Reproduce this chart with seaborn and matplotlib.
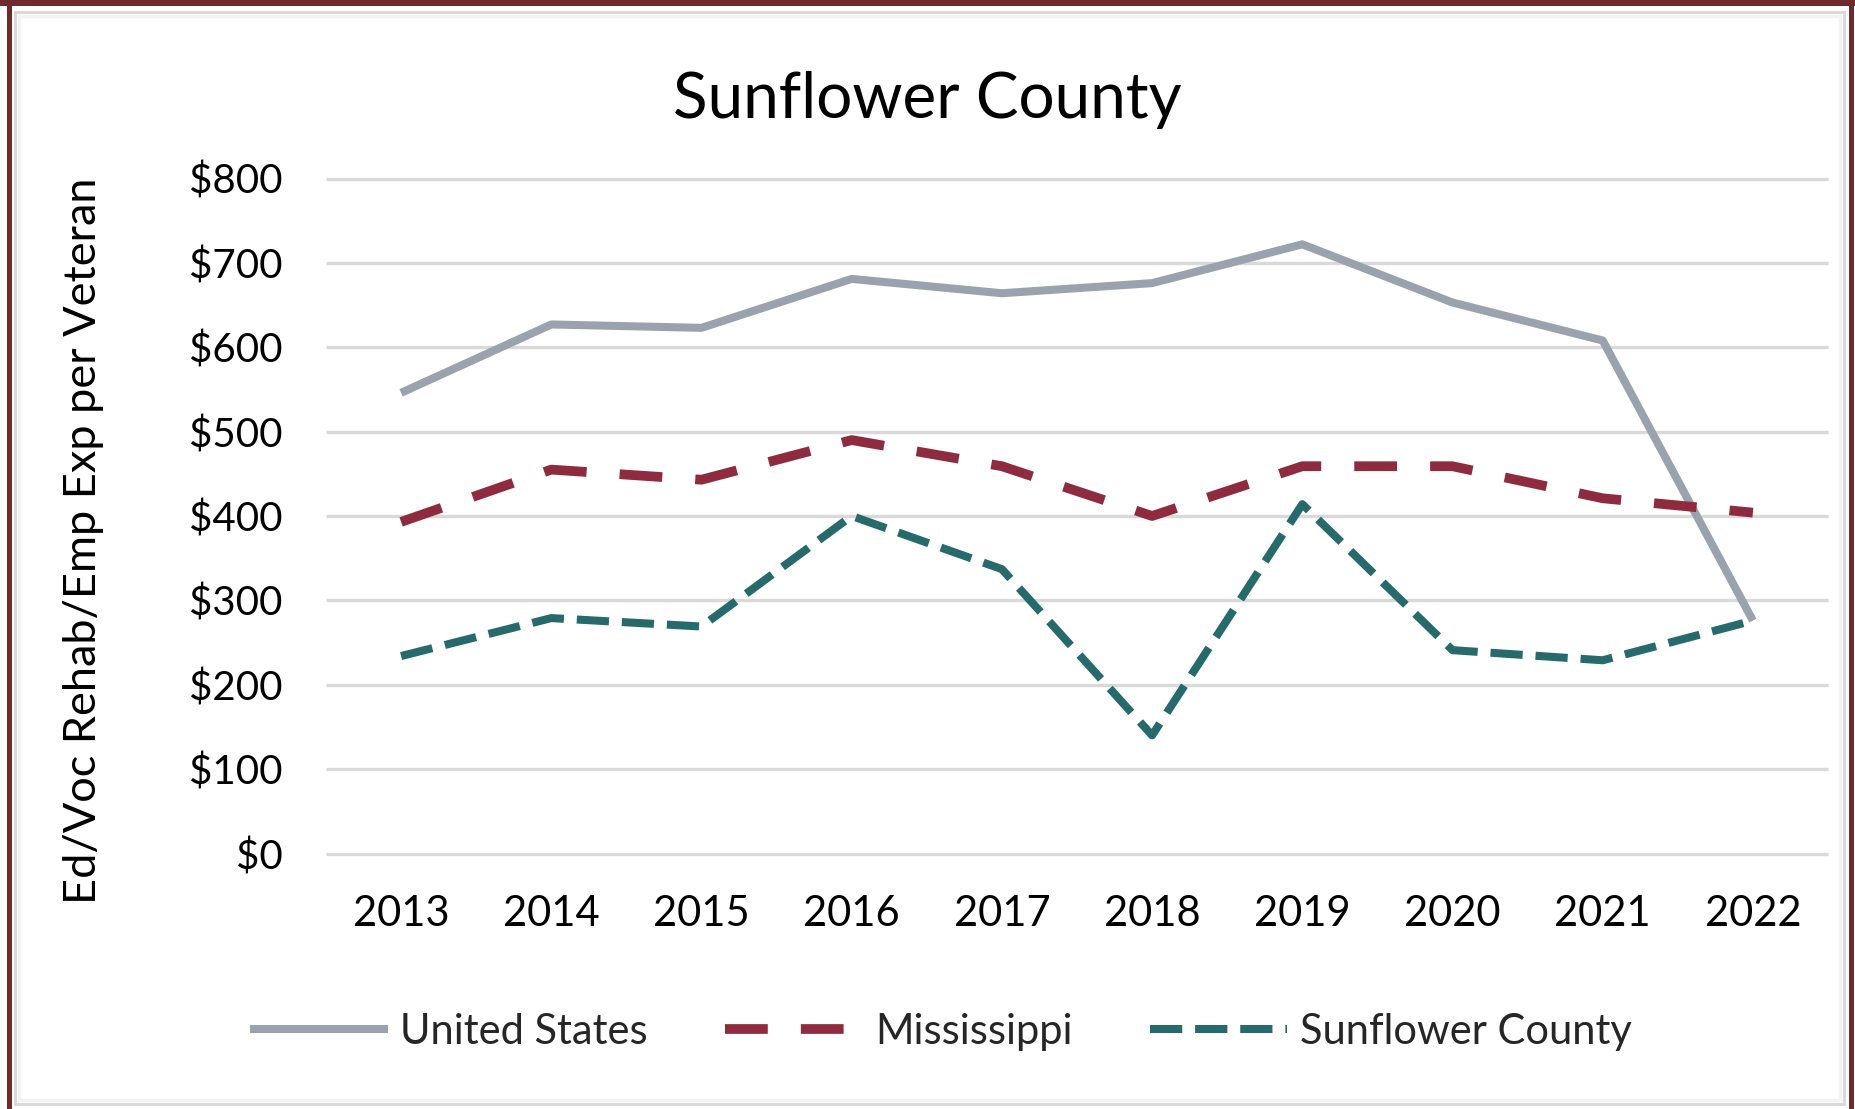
import matplotlib
matplotlib.use("Agg")
import matplotlib.pyplot as plt
import seaborn as sns
import pandas as pd
from matplotlib.patches import Rectangle

# ---------------- data ----------------
years = ["2013", "2014", "2015", "2016", "2017", "2018", "2019", "2020", "2021", "2022"]
united_states = [546, 627, 623, 681, 664, 676, 722, 653, 608, 276]
mississippi = [393, 455, 443, 490, 459, 400, 459, 459, 421, 404]
sunflower_county = [234, 279, 269, 400, 337, 140, 414, 241, 229, 276]
series_names = ["United States", "Mississippi", "Sunflower County"]
y_ticks = [0, 100, 200, 300, 400, 500, 600, 700, 800]
y_tick_labels = ["\\$0", "\\$100", "\\$200", "\\$300", "\\$400", "\\$500", "\\$600", "\\$700", "\\$800"]
title_text = "Sunflower County"
y_label_text = "Ed/Voc Rehab/Emp Exp per Veteran"

# ---------------- styles ----------------
colors = {"United States": "#9AA3AD", "Mississippi": "#8E2B3F", "Sunflower County": "#276A6C"}
dashes = {"United States": "", "Mississippi": (4.4, 3.4), "Sunflower County": (4.0, 1.6)}
widths = {"United States": 5.8, "Mississippi": 7.0, "Sunflower County": 5.8}

df = pd.DataFrame({
    "Year": years * 3,
    "Value": united_states + mississippi + sunflower_county,
    "Series": [series_names[0]] * len(years) + [series_names[1]] * len(years) + [series_names[2]] * len(years),
})

sns.set_style("white")
plt.rcParams["font.family"] = ["Lato", "DejaVu Sans"]
plt.rcParams["lines.solid_capstyle"] = "butt"

W, H = 1855, 1109
fig = plt.figure(figsize=(W / 100, H / 100), dpi=100)
fig.patch.set_facecolor("white")

ax_left, ax_right = 326 / W, 1828 / W
ax_bottom, ax_top = 1 - 853.5 / H, 1 - 178.5 / H
ax = fig.add_axes([ax_left, ax_bottom, ax_right - ax_left, ax_top - ax_bottom])

sns.lineplot(
    data=df, x="Year", y="Value", hue="Series", style="Series", size="Series",
    hue_order=series_names, style_order=series_names, size_order=series_names,
    palette=colors, dashes=dashes, sizes=widths, legend=False, ax=ax, sort=False,
)

ax.set_xlim(-0.5, len(years) - 0.5)
ax.set_ylim(0, 800)
ax.set_yticks(y_ticks)
ax.set_yticklabels(y_tick_labels)
ax.set_xlabel("")
ax.set_ylabel("")
for s in ax.spines.values():
    s.set_visible(False)
ax.set_axisbelow(True)
ax.yaxis.grid(True, color="#D9D9D9", linewidth=2.4)
ax.xaxis.grid(False)
for t in ax.yaxis.get_major_ticks():
    t.gridline.set_clip_on(False)
ax.tick_params(axis="both", length=0, colors="#000000")
ax.tick_params(axis="y", pad=31.5, labelsize=29)
ax.tick_params(axis="x", pad=30, labelsize=30)

# title and y label
fig.text(0.5, 1 - 118 / H, title_text, ha="center", va="baseline", fontsize=46, color="#000000")
fig.text(84 / W, 1 - 541 / H, y_label_text, rotation=90, ha="center", va="center", fontsize=32.5, color="#000000")

# legend
handles = ax.get_lines()[:3]
fig.legend(handles, series_names, loc="center", bbox_to_anchor=(941 / W, 1 - 1032 / H),
           ncol=3, frameon=False, fontsize=30, handlelength=3.3, handletextpad=0.3,
           columnspacing=1.85, borderpad=0)

# frame decorations
maroon = "#6F2B2B"
fig.add_artist(Rectangle((0, 1 - 6 / H), 1, 6 / H, transform=fig.transFigure, color=maroon, lw=0))
fig.add_artist(Rectangle((7 / W, 0), 5 / W, 1, transform=fig.transFigure, color=maroon, lw=0))
fig.add_artist(Rectangle((1849 / W, 0), 5 / W, 1, transform=fig.transFigure, color=maroon, lw=0))
fig.add_artist(Rectangle((14.5 / W, 5 / H), (1844 - 14.5) / W, (1097 - 5) / H, transform=fig.transFigure,
                         fill=False, edgecolor="#DADADA", lw=2.2))
fig.add_artist(Rectangle((18.5 / W, 9 / H), (1840 - 18.5) / W, (1093 - 9) / H, transform=fig.transFigure,
                         fill=False, edgecolor="#F3F3F3", lw=2.5))

fig.savefig("out.png", dpi=100, facecolor="white")
